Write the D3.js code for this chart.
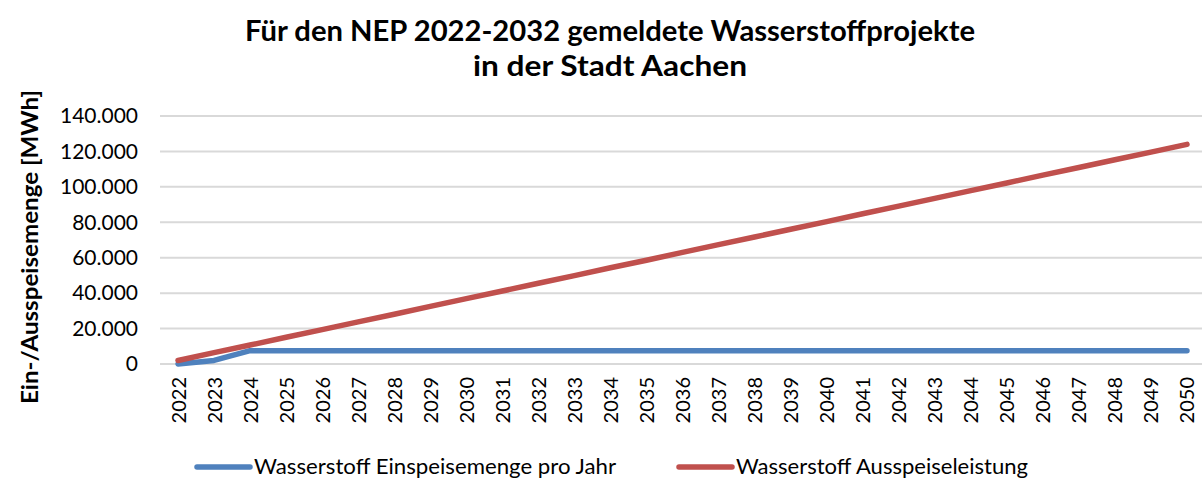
<!DOCTYPE html>
<html>
<head>
<meta charset="utf-8">
<script src="https://cdn.jsdelivr.net/npm/d3@7"></script>
<style>
  body { margin: 0; background: #fff; }
  svg { display: block; font-family: Lato, "Open Sans", sans-serif; }
</style>
</head>
<body>
<svg id="canvas" width="1202" height="479"></svg>
<script>
// data
let years = d3.range(2022, 2051).map(String)
let einspeisung = [0, 2000, 7500, 7500, 7500, 7500, 7500, 7500, 7500, 7500,
    7500, 7500, 7500, 7500, 7500, 7500, 7500, 7500, 7500, 7500,
    7500, 7500, 7500, 7500, 7500, 7500, 7500, 7500, 7500]
let ausspeisung = [2000, 6400, 10700, 15100, 19400, 23800, 28100, 32500, 36900, 41200,
    45600, 49900, 54300, 58600, 63000, 67400, 71700, 76100, 80400, 84800,
    89100, 93500, 97900, 102200, 106600, 110900, 115300, 119600, 124000]
let yTicks = [0, 20000, 40000, 60000, 80000, 100000, 120000, 140000]
let seriesNames = ['Wasserstoff Einspeisemenge pro Jahr', 'Wasserstoff Ausspeiseleistung']
let colors = ['#4f81bd', '#c0504d']

let canvas = d3.select('#canvas')
let plotLeft = 160, plotRight = 1205, plotTop = 116, plotBottom = 364

let x = d3.scalePoint().domain(years).range([plotLeft, plotRight]).padding(0.5)
let y = d3.scaleLinear().domain([0, 140000]).range([plotBottom, plotTop])
let fmt = d3.formatLocale({decimal: ',', thousands: '.', grouping: [3], currency: ['', '€']}).format(',.0f')

// title
let title = canvas.append('text')
    .attr('x', 610).attr('y', 41)
    .attr('text-anchor', 'middle')
    .attr('font-weight', 'bold')
    .attr('font-size', 28)
    .attr('fill', '#000')
title.append('tspan').attr('x', 610).attr('dy', 0)
    .attr('textLength', 730).attr('lengthAdjust', 'spacingAndGlyphs')
    .text('Für den NEP 2022-2032 gemeldete Wasserstoffprojekte')
title.append('tspan').attr('x', 610).attr('dy', 35)
    .attr('textLength', 274).attr('lengthAdjust', 'spacingAndGlyphs')
    .text('in der Stadt Aachen')

// grid
canvas.append('g').selectAll('line')
    .data(yTicks)
    .enter()
    .append('line')
    .attr('x1', plotLeft).attr('x2', plotRight)
    .attr('y1', (d) => y(d)).attr('y2', (d) => y(d))
    .attr('stroke', '#d9d9d9')
    .attr('stroke-width', 2)

// y axis labels
let yAxis = canvas.append('g')
    .attr('transform', 'translate(' + (plotLeft - 8) + ',0)')
    .call(d3.axisLeft(y).tickValues(yTicks).tickFormat(fmt).tickSize(0).tickPadding(14))
yAxis.select('.domain').remove()
yAxis.selectAll('text').attr('font-size', 21).attr('fill', '#000').attr('font-family', 'Lato, "Open Sans", sans-serif')

// x axis labels
let xAxis = canvas.append('g')
    .attr('transform', 'translate(0,' + plotBottom + ')')
    .call(d3.axisBottom(x).tickSize(0).tickPadding(0))
xAxis.select('.domain').remove()
xAxis.selectAll('text')
    .attr('font-size', 20).attr('fill', '#000').attr('font-family', 'Lato, "Open Sans", sans-serif')
    .attr('transform', 'rotate(-90)')
    .attr('text-anchor', 'end')
    .attr('x', -13).attr('y', 0).attr('dy', '0.35em')

// y title
canvas.append('text')
    .attr('transform', 'translate(38,247) rotate(-90)')
    .attr('text-anchor', 'middle')
    .attr('font-weight', 'bold')
    .attr('font-size', 23)
    .attr('textLength', 314).attr('lengthAdjust', 'spacingAndGlyphs')
    .text('Ein-/Ausspeisemenge [MWh]')

// lines
let line = d3.line().x((d, i) => x(years[i])).y((d) => y(d))
;[einspeisung, ausspeisung].forEach((s, i) => {
    canvas.append('path')
        .datum(s)
        .attr('d', line)
        .attr('fill', 'none')
        .attr('stroke', colors[i])
        .attr('stroke-width', 5.5)
        .attr('stroke-linecap', 'round')
        .attr('stroke-linejoin', 'round')
})

// legend
let legendX = [197, 679]
let legendW = [362, 292]
let legend = canvas.append('g').selectAll('g')
    .data(seriesNames)
    .enter()
    .append('g')
    .attr('transform', (d, i) => 'translate(' + legendX[i] + ',467)')
legend.append('line')
    .attr('x1', 0).attr('x2', 53)
    .attr('stroke', (d, i) => colors[i])
    .attr('stroke-width', 5.5)
    .attr('stroke-linecap', 'round')
legend.append('text')
    .attr('x', 57).attr('dy', '0.33em')
    .attr('font-size', 21)
    .attr('textLength', (d, i) => legendW[i]).attr('lengthAdjust', 'spacingAndGlyphs')
    .text((d) => d)
</script>
</body>
</html>
